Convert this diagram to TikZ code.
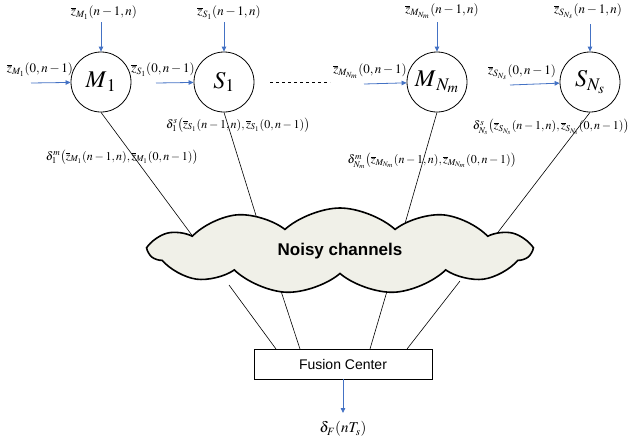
\documentclass[tikz,border=0pt]{standalone}
\usepackage{mathptmx}
\usepackage{fontspec}
\setsansfont{Liberation Sans}
\usetikzlibrary{shapes.symbols,arrows.meta}
\definecolor{arrowblue}{RGB}{68,114,196}
\definecolor{cloudfill}{RGB}{240,240,232}
\newcommand{\zb}{\overline{z}}
\begin{document}
\begin{tikzpicture}[x=1pt,y=-1pt,
  sensor/.style={circle,draw,line width=0.8pt,minimum size=60pt,inner sep=0pt,font=\fontsize{24}{24}\selectfont},
  inarrow/.style={draw=arrowblue,line width=0.8pt,-{Triangle[length=5pt,width=4.5pt]}},
  lbl/.style={inner sep=0pt,font=\fontsize{13}{14}\selectfont},
  dlbl/.style={inner sep=0pt,font=\fontsize{12}{14}\selectfont},
  link/.style={draw,line width=0.6pt},
  channel/.style={cloud,cloud puffs=11,cloud puff arc=85,aspect=4.4,draw,line width=1.6pt,fill=cloudfill,minimum width=380pt,minimum height=86pt,inner sep=0pt,font=\sffamily\bfseries\fontsize{17}{17}\selectfont},
  fcbox/.style={rectangle,draw,line width=0.7pt,minimum width=178pt,minimum height=30pt,inner sep=0pt,font=\sffamily\fontsize{14}{14}\selectfont}
]
\useasboundingbox (0,0) rectangle (633,445);

% sensors
\node[sensor] (m1) at (101,82) {$M_{\,1}$};
\node[sensor] (s1) at (224,82) {$S_1$};
\node[sensor] (mn) at (437,82) {$M_{\,N_m}$};
\node[sensor] (sn) at (590,82) {$S_{N_s}$};

% dashed ellipsis
\coordinate (d1) at (270,82);
\coordinate (d2) at (330,82);
\draw[dashed,line width=0.6pt] (d1) -- (d2);

% top inputs
\node[lbl] (tm1) at (104,13) {$\zb_{M_1}(n-1,n)$};
\node[lbl] (ts1) at (229,13) {$\zb_{S_1}(n-1,n)$};
\node[lbl] (tmn) at (442,11) {$\zb_{M_{N_m}}(n-1,n)$};
\node[lbl] (tsn) at (588,11) {$\zb_{S_{N_s}}(n-1,n)$};
\coordinate (am1) at (101,22);
\coordinate (as1) at (224,22);
\coordinate (amn) at (437,22);
\coordinate (asn) at (590,24);
\draw[inarrow] (am1) -- (m1);
\draw[inarrow] (as1) -- (s1);
\draw[inarrow] (amn) -- (mn);
\draw[inarrow] (asn) -- (sn);

% left inputs
\node[lbl] (lm1) at (40,70) {$\zb_{M_1}(0,n-1)$};
\node[lbl] (ls1) at (163,70) {$\zb_{S_1}(0,n-1)$};
\node[lbl] (lmn) at (370,71) {$\zb_{M_{N_m}}(0,n-1)$};
\node[lbl] (lsn) at (522,72) {$\zb_{S_{N_s}}(0,n-1)$};
\coordinate (bm1) at (31,83);
\coordinate (bs1) at (156,83);
\coordinate (bmn) at (364,84);
\coordinate (bsn) at (510,85);
\draw[inarrow] (bm1) -- (m1);
\draw[inarrow] (bs1) -- (s1);
\draw[inarrow] (bmn) -- (mn);
\draw[inarrow] (bsn) -- (sn);

% decision labels
\node[dlbl] (dm1) at (122,157) {$\delta_1^m\bigl(\zb_{M_1}(n-1,n),\zb_{M_1}(0,n-1)\bigr)$};
\node[dlbl] (ds1) at (238,125) {$\delta_1^s\bigl(\zb_{S_1}(n-1,n),\zb_{S_1}(0,n-1)\bigr)$};
\node[dlbl] (dmn) at (432,161) {$\delta_{N_m}^m\bigl(\zb_{M_{N_m}}(n-1,n),\zb_{M_{N_m}}(0,n-1)\bigr)$};
\node[dlbl] (dsn) at (551,127) {$\delta_{N_s}^s\bigl(\zb_{S_{N_s}}(n-1,n),\zb_{S_{N_s}}(0,n-1)\bigr)$};

% links to channel (ends hidden under the cloud)
\coordinate (c1) at (194,238);
\coordinate (c2) at (258,222);
\coordinate (c3) at (404,227);
\coordinate (c4) at (492,240);
\draw[link] (m1.south) -- (c1);
\draw[link] (s1.south) -- (c2);
\draw[link] (mn.south) -- (c3);
\draw[link] (sn.south) -- (c4);

% fusion center and links
\node[fcbox] (fc) at (343,364) {Fusion Center};
\coordinate (e1) at (229,285);
\coordinate (e2) at (279,285);
\coordinate (e3) at (390,281);
\coordinate (e4) at (460,281);
\coordinate (f1) at (276,349);
\coordinate (f2) at (300,349);
\coordinate (f3) at (370,349);
\coordinate (f4) at (407,349);
\draw[link] (e1) -- (f1);
\draw[link] (e2) -- (f2);
\draw[link] (e3) -- (f3);
\draw[link] (e4) -- (f4);

% channel cloud
\node[channel] (ch) at (340,251) {Noisy channels};

% output
\coordinate (out) at (343,413);
\draw[inarrow] (fc) -- (out);
\node[inner sep=0pt,font=\fontsize{15}{15}\selectfont] (df) at (343,429) {$\delta_F(nT_s)$};
\end{tikzpicture}
\end{document}
